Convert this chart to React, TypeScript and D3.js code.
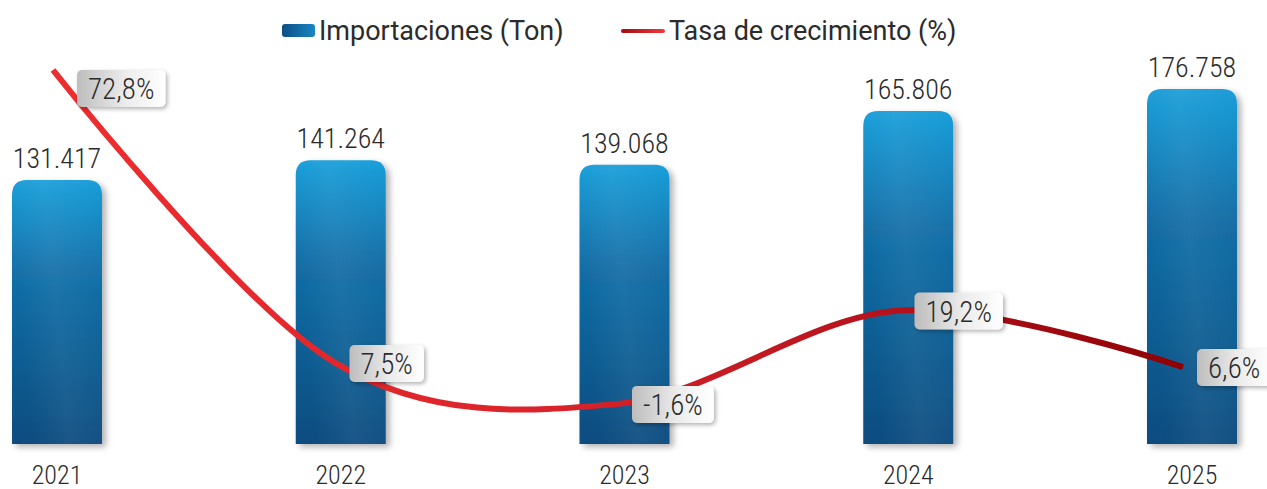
import { useEffect, useRef } from 'react';
import * as d3 from 'd3';

const years = ['2021', '2022', '2023', '2024', '2025'];
const imports = [131417, 141264, 139068, 165806, 176758];
const growth = [72.8, 7.5, -1.6, 19.2, 6.6];
const importLabels = ['131.417', '141.264', '139.068', '165.806', '176.758'];
const growthLabels = ['72,8%', '7,5%', '-1,6%', '19,2%', '6,6%'];

const NUM_FONT = '"Roboto Condensed", "Liberation Sans Narrow", Roboto, sans-serif';
const LEG_FONT = 'Roboto, "Open Sans", sans-serif';

const App = () => {
  const svgRef = useRef<SVGSVGElement | null>(null);

  useEffect(() => {
    const width = 1267;
    const height = 489;
    const svg = d3.select(svgRef.current).attr('width', width).attr('height', height);
    svg.selectAll('*').remove();

    const defs = svg.append('defs');

    const barGrad = defs.append('linearGradient')
      .attr('id', 'barGrad').attr('x1', 0).attr('y1', 0).attr('x2', 0).attr('y2', 1);
    barGrad.append('stop').attr('offset', '0%').attr('stop-color', '#1a9ed9');
    barGrad.append('stop').attr('offset', '35%').attr('stop-color', '#126fa8');
    barGrad.append('stop').attr('offset', '100%').attr('stop-color', '#0a4c7f');

    const sheen = defs.append('linearGradient')
      .attr('id', 'sheen').attr('x1', 0).attr('y1', 0.3).attr('x2', 1).attr('y2', 0);
    sheen.append('stop').attr('offset', '0%').attr('stop-color', '#fff').attr('stop-opacity', 0);
    sheen.append('stop').attr('offset', '40%').attr('stop-color', '#fff').attr('stop-opacity', 0.06);
    sheen.append('stop').attr('offset', '100%').attr('stop-color', '#fff').attr('stop-opacity', 0);

    const lineGrad = defs.append('linearGradient')
      .attr('id', 'lineGrad').attr('gradientUnits', 'userSpaceOnUse')
      .attr('x1', 53).attr('y1', 0).attr('x2', 1183).attr('y2', 0);
    lineGrad.append('stop').attr('offset', '0%').attr('stop-color', '#ee2d2f');
    lineGrad.append('stop').attr('offset', '45%').attr('stop-color', '#d9232a');
    lineGrad.append('stop').attr('offset', '75%').attr('stop-color', '#b3121b');
    lineGrad.append('stop').attr('offset', '100%').attr('stop-color', '#8e0004');

    const boxGrad = defs.append('linearGradient')
      .attr('id', 'boxGrad').attr('x1', 0).attr('y1', 0).attr('x2', 1).attr('y2', 0);
    boxGrad.append('stop').attr('offset', '0%').attr('stop-color', '#bdbdbd');
    boxGrad.append('stop').attr('offset', '55%').attr('stop-color', '#ececec');
    boxGrad.append('stop').attr('offset', '100%').attr('stop-color', '#ffffff');

    const legBlue = defs.append('linearGradient')
      .attr('id', 'legBlue').attr('x1', 0).attr('y1', 0).attr('x2', 1).attr('y2', 0);
    legBlue.append('stop').attr('offset', '0%').attr('stop-color', '#0b4f84');
    legBlue.append('stop').attr('offset', '100%').attr('stop-color', '#1a86c4');

    const legRed = defs.append('linearGradient')
      .attr('id', 'legRed').attr('gradientUnits', 'userSpaceOnUse')
      .attr('x1', 622).attr('y1', 0).attr('x2', 664).attr('y2', 0);
    legRed.append('stop').attr('offset', '0%').attr('stop-color', '#a30c12');
    legRed.append('stop').attr('offset', '100%').attr('stop-color', '#ef3a3c');

    const barShadow = defs.append('filter').attr('id', 'barShadow')
      .attr('x', '-20%').attr('y', '-10%').attr('width', '150%').attr('height', '130%');
    barShadow.append('feDropShadow').attr('dx', 4).attr('dy', 3).attr('stdDeviation', 3)
      .attr('flood-color', '#000').attr('flood-opacity', 0.3);

    const boxShadow = defs.append('filter').attr('id', 'boxShadow')
      .attr('x', '-20%').attr('y', '-20%').attr('width', '150%').attr('height', '160%');
    boxShadow.append('feDropShadow').attr('dx', 2).attr('dy', 2).attr('stdDeviation', 2)
      .attr('flood-color', '#000').attr('flood-opacity', 0.3);

    // scales
    const x = d3.scalePoint().domain(years).range([57, 1192]);
    const barW = 90;
    const y = d3.scaleLinear().domain([0, 176758]).range([444, 89]);
    const xl = d3.scalePoint().domain(years).range([53, 1183]);
    const yl = d3.scaleLinear().domain([0, 72.8]).range([396.7, 70]);

    const r = 15;
    const barPath = (cx: number, top: number, bottom: number) => {
      const l = cx - barW / 2, rr = cx + barW / 2;
      return `M${l},${bottom} L${l},${top + r} Q${l},${top} ${l + r},${top} L${rr - r},${top} Q${rr},${top} ${rr},${top + r} L${rr},${bottom} Z`;
    };

    const bars = svg.append('g');
    bars.selectAll('path.bar')
      .data(imports)
      .enter().append('path')
      .attr('class', 'bar')
      .attr('d', (d, i) => barPath(x(years[i])!, y(d), y(0)))
      .attr('fill', 'url(#barGrad)')
      .attr('filter', 'url(#barShadow)');
    bars.selectAll('path.sheen')
      .data(imports)
      .enter().append('path')
      .attr('class', 'sheen')
      .attr('d', (d, i) => barPath(x(years[i])!, y(d), y(0)))
      .attr('fill', 'url(#sheen)');

    svg.append('g').selectAll('text')
      .data(importLabels)
      .enter().append('text')
      .attr('x', (d, i) => x(years[i])!)
      .attr('y', (d, i) => y(imports[i]) - 12)
      .attr('text-anchor', 'middle')
      .style('font-family', NUM_FONT)
      .style('font-weight', 300)
      .style('font-size', '28px')
      .attr('fill', '#2b2b2b')
      .text(d => d);

    svg.append('g').selectAll('text')
      .data(years)
      .enter().append('text')
      .attr('x', d => x(d)!)
      .attr('y', 484)
      .attr('text-anchor', 'middle')
      .style('font-family', NUM_FONT)
      .style('font-weight', 300)
      .style('font-size', '26px')
      .attr('fill', '#2b2b2b')
      .text(d => d);

    const line = d3.line<number>()
      .x((d, i) => xl(years[i])!)
      .y(d => yl(d))
      .curve(d3.curveCatmullRom.alpha(0));

    svg.append('path')
      .attr('d', line(growth))
      .attr('fill', 'none')
      .attr('stroke', 'url(#lineGrad)')
      .attr('stroke-width', 6);

    // data labels
    const labels = svg.append('g');
    growth.forEach((v, i) => {
      const px = xl(years[i])!;
      const py = yl(v);
      let top = py - 18;
      let left = px + 14;
      if (top < 70) { top = 70; left = px + 24; }
      const g = labels.append('g');
      const rect = g.append('rect')
        .attr('rx', 5).attr('ry', 5)
        .attr('fill', 'url(#boxGrad)')
        .attr('filter', 'url(#boxShadow)');
      const t = g.append('text')
        .attr('text-anchor', 'middle')
        .style('font-family', NUM_FONT)
        .style('font-weight', 300)
        .style('font-size', '29px')
        .attr('fill', '#2b2b2b')
        .text(growthLabels[i]);
      const tw = (t.node() as SVGTextElement).getComputedTextLength();
      const bw = tw + 22;
      rect.attr('x', left).attr('y', top).attr('width', bw).attr('height', 37);
      t.attr('x', left + bw / 2).attr('y', top + 29);
    });

    // legend
    const leg = svg.append('g');
    leg.append('rect').attr('x', 282).attr('y', 24).attr('width', 33).attr('height', 13)
      .attr('rx', 3).attr('fill', 'url(#legBlue)');
    leg.append('text').attr('x', 319).attr('y', 40)
      .style('font-family', LEG_FONT).style('font-size', '27px').attr('fill', '#2b2b2b')
      .text('Importaciones (Ton)');
    leg.append('line').attr('x1', 623).attr('x2', 663).attr('y1', 31).attr('y2', 31)
      .attr('stroke', 'url(#legRed)').attr('stroke-width', 4).attr('stroke-linecap', 'round');
    leg.append('text').attr('x', 669).attr('y', 40)
      .style('font-family', LEG_FONT).style('font-size', '27px').attr('fill', '#2b2b2b')
      .text('Tasa de crecimiento (%)');
  }, []);

  return (
    <div style={{ position: 'absolute', left: 0, top: 0 }}>
      <svg ref={svgRef} style={{ display: 'block' }}></svg>
    </div>
  );
};

export default App;
